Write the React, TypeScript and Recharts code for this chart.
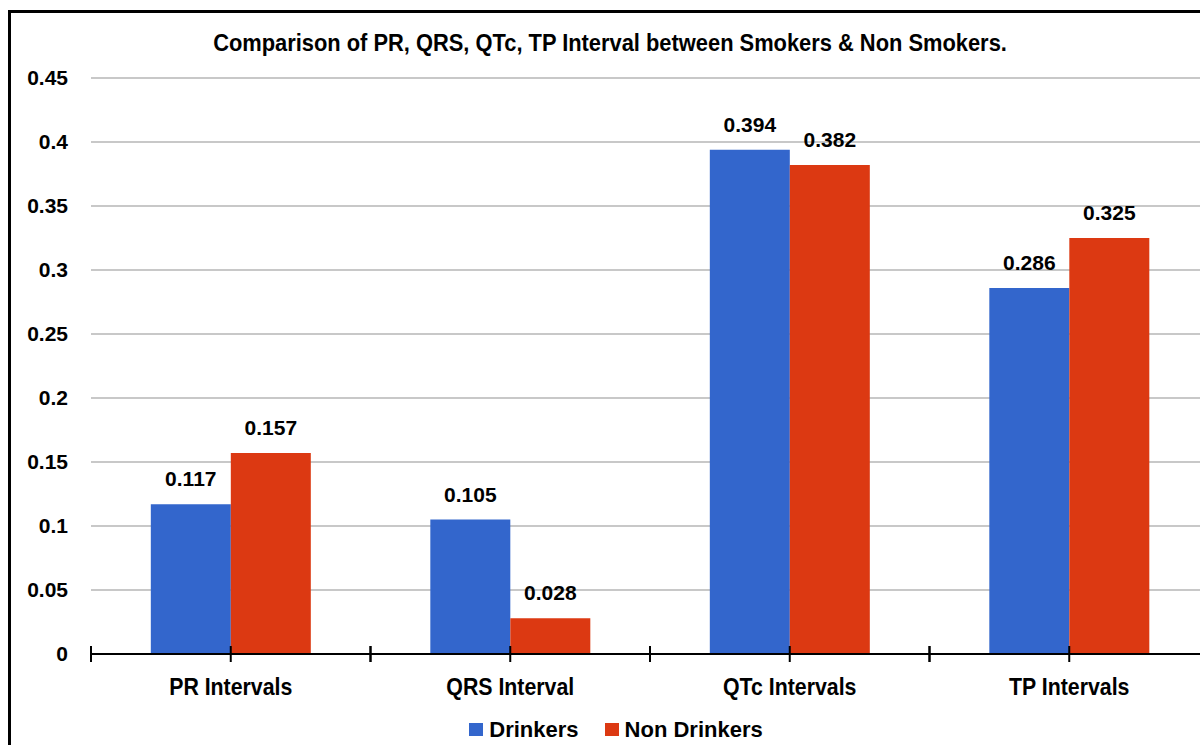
import React from 'react';
import { BarChart, Bar, XAxis, YAxis, CartesianGrid, LabelList, Legend } from 'recharts';

const categories = ['PR Intervals', 'QRS Interval', 'QTc Intervals', 'TP Intervals'];
const drinkers = [0.117, 0.105, 0.394, 0.286];
const nonDrinkers = [0.157, 0.028, 0.382, 0.325];
const yTicks = [0, 0.05, 0.1, 0.15, 0.2, 0.25, 0.3, 0.35, 0.4, 0.45];
const seriesNames = ['Drinkers', 'Non Drinkers'];
const seriesColors = ['#3366CC', '#DC3912'];
const title = 'Comparison of PR, QRS, QTc, TP Interval between Smokers & Non Smokers.';

const data = categories.map((c, i) => ({ name: c, d: drinkers[i], n: nonDrinkers[i] }));

const FONT = "'Liberation Sans', Arial, sans-serif";
const W = 1230;
const H = 745;

const XTick = (props: any) => {
  const { x, y, payload } = props;
  const half = payload && payload.offset ? payload.offset : 0;
  return (
    <g>
      {[x - half, x, x + half].map((tx: number, i: number) => (
        <line key={i} x1={tx} x2={tx} y1={y - 8} y2={y + 8} stroke="#000" strokeWidth={2} />
      ))}
      <g transform={`translate(${x},${y + 41}) scale(0.87,1)`}>
        <text x={0} y={0} textAnchor="middle" fontFamily={FONT} fontWeight="bold" fontSize={24.5} fill="#000">
          {payload.value}
        </text>
      </g>
    </g>
  );
};

const LegendContent = () => (
  <div
    style={{
      display: 'flex',
      justifyContent: 'center',
      alignItems: 'center',
      height: 31,
      paddingLeft: 2,
      fontFamily: FONT,
      fontWeight: 'bold',
      fontSize: 22,
      color: '#000',
    }}
  >
    {seriesNames.map((n, i) => (
      <div key={n} style={{ display: 'flex', alignItems: 'center', marginRight: i === 0 ? 26 : 0 }}>
        <span style={{ display: 'inline-block', width: 14, height: 13, background: seriesColors[i], marginRight: 6 }} />
        <span>{n}</span>
      </div>
    ))}
  </div>
);

export default function App() {
  return (
    <div
      style={{
        position: 'fixed',
        top: 0,
        left: 0,
        width: 1200,
        height: 745,
        overflow: 'hidden',
        background: '#fff',
      }}
    >
      <div style={{ position: 'absolute', top: 0, left: 0 }}>
        <BarChart
          width={W}
          height={H}
          data={data}
          margin={{ top: 78, right: 21, bottom: 0, left: 0 }}
          barCategoryGap="21.4%"
          barGap={0}
        >
          <g transform="translate(610,51) scale(0.9,1)">
            <text x={0} y={0} textAnchor="middle" fontFamily={FONT} fontWeight="bold" fontSize={24.3} fill="#000">
              {title}
            </text>
          </g>
          <CartesianGrid vertical={false} stroke="#c8c8c8" strokeWidth={2} />
          <XAxis
            dataKey="name"
            height={60}
            axisLine={{ stroke: '#000', strokeWidth: 2 }}
            tickLine={false}
            tickSize={0}
            tickMargin={0}
            tick={<XTick />}
            interval={0}
          />
          <YAxis
            width={91}
            domain={[0, 0.45]}
            ticks={yTicks}
            axisLine={false}
            tickLine={false}
            tickSize={0}
            tickMargin={23}
            tick={{ fontFamily: FONT, fontWeight: 'bold', fontSize: 21, fill: '#000' }}
          />
          <Legend verticalAlign="bottom" content={<LegendContent />} wrapperStyle={{ left: 0, width: W }} />
          <Bar dataKey="d" name={seriesNames[0]} fill={seriesColors[0]} isAnimationActive={false}>
            <LabelList dataKey="d" position="top" offset={18} fontFamily={FONT} fontWeight="bold" fontSize={21} fill="#000" />
          </Bar>
          <Bar dataKey="n" name={seriesNames[1]} fill={seriesColors[1]} isAnimationActive={false}>
            <LabelList dataKey="n" position="top" offset={18} fontFamily={FONT} fontWeight="bold" fontSize={21} fill="#000" />
          </Bar>
        </BarChart>
      </div>
      <div
        style={{
          position: 'absolute',
          top: 10,
          left: 8,
          width: 1300,
          height: 800,
          border: '3px solid #000',
          boxSizing: 'border-box',
          pointerEvents: 'none',
        }}
      />
    </div>
  );
}
